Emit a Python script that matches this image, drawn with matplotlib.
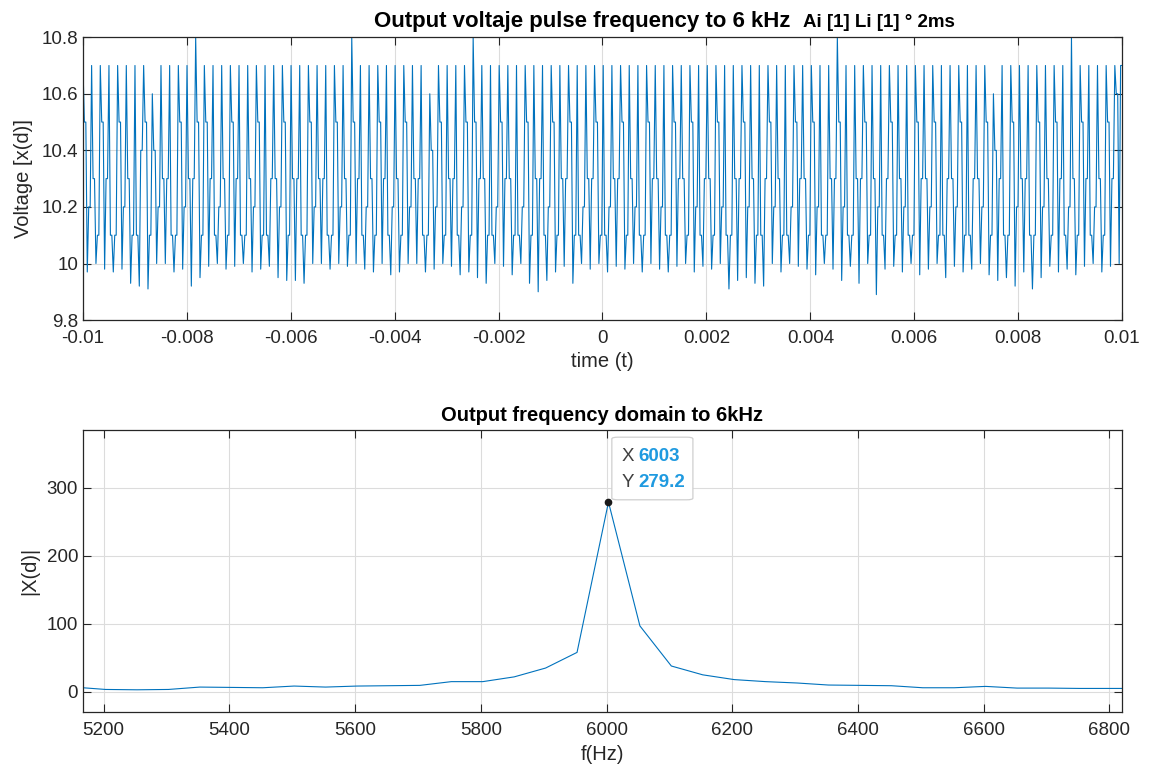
import numpy as np
import matplotlib.pyplot as plt
from matplotlib.patches import FancyBboxPatch

# Time-domain pulse train, one entry per cycle (120 cycles across 20 ms)
peaks = [
    10.7, 10.7, 10.7, 10.7, 10.7, 10.7, 10.7, 10.7, 10.6, 10.7, 10.7, 10.7, 10.7, 10.8, 10.7, 10.7, 10.7, 10.7, 10.7, 10.7,
    10.7, 10.7, 10.7, 10.7, 10.7, 10.7, 10.7, 10.7, 10.7, 10.7, 10.7, 10.8, 10.7, 10.7, 10.7, 10.7, 10.7, 10.7, 10.7, 10.7,
    10.6, 10.7, 10.7, 10.7, 10.7, 10.8, 10.7, 10.7, 10.7, 10.7, 10.7, 10.7, 10.7, 10.7, 10.7, 10.7, 10.7, 10.7, 10.7, 10.7,
    10.7, 10.7, 10.7, 10.7, 10.7, 10.7, 10.7, 10.7, 10.7, 10.7, 10.7, 10.7, 10.7, 10.7, 10.7, 10.7, 10.7, 10.7, 10.7, 10.7,
    10.7, 10.7, 10.7, 10.7, 10.7, 10.7, 10.7, 10.8, 10.7, 10.7, 10.7, 10.7, 10.7, 10.7, 10.7, 10.7, 10.7, 10.7, 10.7, 10.7,
    10.7, 10.7, 10.7, 10.7, 10.7, 10.6, 10.7, 10.7, 10.7, 10.7, 10.7, 10.7, 10.7, 10.7, 10.8, 10.7, 10.7, 10.7, 10.7, 10.7,
]
down_mid = [
    10.5, 10.3, 10.5, 10.1, 10.5, 10.3, 10.1, 10.5, 10.4, 10.3, 10.1, 10.5, 10.3, 10.5, 10.5, 10.1, 10.3, 10.5, 10.1, 10.3,
    10.5, 10.1, 10.3, 10.5, 10.3, 10.1, 10.5, 10.3, 10.1, 10.5, 10.3, 10.5, 10.1, 10.3, 10.5, 10.1, 10.3, 10.5, 10.3, 10.1,
    10.4, 10.5, 10.3, 10.1, 10.5, 10.5, 10.3, 10.1, 10.5, 10.3, 10.1, 10.5, 10.3, 10.1, 10.5, 10.3, 10.5, 10.1, 10.3, 10.5,
    10.1, 10.3, 10.5, 10.3, 10.1, 10.5, 10.3, 10.1, 10.5, 10.3, 10.5, 10.1, 10.3, 10.5, 10.1, 10.3, 10.5, 10.3, 10.1, 10.5,
    10.3, 10.1, 10.5, 10.3, 10.5, 10.1, 10.3, 10.5, 10.1, 10.3, 10.5, 10.3, 10.1, 10.5, 10.3, 10.1, 10.5, 10.3, 10.5, 10.1,
    10.3, 10.5, 10.1, 10.3, 10.5, 10.4, 10.1, 10.5, 10.3, 10.1, 10.5, 10.3, 10.5, 10.1, 10.3, 10.5, 10.1, 10.3, 10.5, 10.6,
]
troughs = [
    9.97, 10.0, 9.98, 9.97, 9.98, 9.93, 9.92, 9.91, 10.0, 10.0, 9.97, 9.98, 9.92, 9.95, 9.99, 10.0, 9.98, 9.99, 10.0, 9.97,
    9.98, 9.99, 9.95, 9.94, 9.94, 9.93, 10.0, 10.0, 9.98, 10.0, 9.99, 10.0, 9.98, 9.97, 10.0, 9.96, 9.97, 10.0, 10.0, 9.97,
    9.98, 10.0, 9.99, 9.96, 9.97, 9.95, 9.93, 10.0, 9.99, 9.96, 10.0, 9.93, 9.90, 9.94, 9.97, 9.99, 9.93, 10.0, 9.98, 10.0,
    9.97, 9.99, 9.98, 10.0, 9.97, 10.0, 9.98, 9.97, 9.99, 10.0, 9.97, 9.99, 9.98, 10.0, 9.91, 9.94, 9.95, 9.93, 9.92, 10.0,
    9.97, 10.0, 9.99, 9.98, 9.96, 10.0, 9.98, 9.94, 9.99, 9.93, 10.0, 9.89, 9.98, 9.99, 9.97, 10.0, 9.96, 9.98, 10.0, 9.95,
    9.99, 9.97, 9.98, 10.0, 9.96, 9.94, 9.95, 9.92, 9.97, 9.91, 9.95, 9.99, 9.97, 9.98, 9.96, 9.99, 10.0, 9.97, 9.99, 10.0,
]
up_mid = [
    10.2, 10.1, 10.3, 10.1, 10.2, 10.1, 10.4, 10.1, 10.2, 10.3, 10.1, 10.2, 10.3, 10.1, 10.3, 10.2, 10.1, 10.3, 10.1, 10.2,
    10.1, 10.3, 10.2, 10.1, 10.3, 10.1, 10.2, 10.3, 10.1, 10.2, 10.1, 10.3, 10.2, 10.1, 10.3, 10.2, 10.1, 10.2, 10.3, 10.1,
    10.2, 10.1, 10.3, 10.2, 10.1, 10.3, 10.1, 10.2, 10.3, 10.1, 10.2, 10.1, 10.3, 10.2, 10.1, 10.3, 10.1, 10.2, 10.3, 10.1,
    10.2, 10.3, 10.1, 10.2, 10.1, 10.3, 10.2, 10.1, 10.3, 10.1, 10.2, 10.3, 10.1, 10.2, 10.1, 10.3, 10.2, 10.1, 10.3, 10.2,
    10.1, 10.2, 10.3, 10.1, 10.2, 10.1, 10.3, 10.2, 10.1, 10.3, 10.1, 10.2, 10.3, 10.1, 10.2, 10.1, 10.3, 10.2, 10.1, 10.3,
    10.2, 10.1, 10.3, 10.2, 10.1, 10.3, 10.1, 10.2, 10.3, 10.1, 10.2, 10.1, 10.3, 10.2, 10.1, 10.3, 10.2, 10.1, 10.3, 10.7,
]

# Spectrum around 6 kHz
freq = [5167, 5203, 5253, 5303, 5353, 5403, 5453, 5503, 5553, 5603, 5653, 5703, 5753, 5803, 5853, 5903, 5953,
        6003, 6053, 6103, 6153, 6203, 6253, 6303, 6353, 6403, 6453, 6503, 6553, 6603, 6653, 6703, 6753, 6803, 6820]
mag = [6, 3.5, 3, 3.5, 7, 6.5, 6, 8.5, 7, 8.5, 9, 9.5, 15, 15, 22, 35, 58,
       279.2, 97, 38, 25, 18, 15, 13, 10, 9.5, 9, 6, 6, 8, 5.5, 5.5, 5, 5, 5]
tip_x, tip_y = 6003, 279.2

# build sample sequence: peak, plateau down, trough, plateau up
volt = []
for p, d, tr, u in zip(peaks, down_mid, troughs, up_mid):
    volt += [p, d, d, tr, u, u]
t = np.linspace(-0.01, 0.01, len(volt))

blue = '#0072BD'
dark = '#262626'
plt.rcParams['font.family'] = 'Liberation Sans'

fig = plt.figure(figsize=(11.52, 7.75), dpi=100)
ax1 = fig.add_axes([0.072, 0.587, 0.902, 0.365])
ax2 = fig.add_axes([0.072, 0.081, 0.902, 0.364])


def matlab_style(ax):
    ax.grid(True, color='#dcdcdc', linewidth=0.8)
    ax.set_axisbelow(True)
    for s in ax.spines.values():
        s.set_color(dark)
        s.set_linewidth(0.9)
    ax.tick_params(direction='in', top=True, right=True, length=6, colors=dark,
                   labelcolor=dark, labelsize=13.5)
    ax.tick_params(axis='x', pad=7)


ax1.plot(t, volt, color=blue, linewidth=0.8)
ax1.set_xlim(-0.01, 0.01)
ax1.set_ylim(9.8, 10.8)
ax1.set_xticks(np.arange(-0.01, 0.0101, 0.002))
ax1.set_xticklabels(['-0.01', '-0.008', '-0.006', '-0.004', '-0.002', '0',
                     '0.002', '0.004', '0.006', '0.008', '0.01'])
ax1.set_yticks([9.8, 10.0, 10.2, 10.4, 10.6, 10.8])
ax1.set_yticklabels(['9.8', '10', '10.2', '10.4', '10.6', '10.8'])
ax1.set_xlabel('time (t)', color=dark, fontsize=14.5, labelpad=4)
ax1.set_ylabel('Voltage [x(d)]', color=dark, fontsize=14.5, labelpad=6)
matlab_style(ax1)
fig.text(0.505, 0.965, 'Output voltaje pulse frequency to 6 kHz', ha='center', va='baseline',
         fontsize=16, fontweight='bold', color='black')
fig.text(0.697, 0.965, 'Ai [1] Li [1] \u00b0 2ms', ha='left', va='baseline',
         fontsize=13.5, fontweight='bold', color='black')

ax2.plot(freq, mag, color=blue, linewidth=0.8)
ax2.plot([tip_x], [tip_y], 'o', color='#1a1a1a', markersize=4.5, zorder=5)
ax2.set_xlim(5167, 6820)
ax2.set_ylim(-30, 385)
ax2.set_xticks([5200, 5400, 5600, 5800, 6000, 6200, 6400, 6600, 6800])
ax2.set_yticks([0, 100, 200, 300])
ax2.set_xlabel('f(Hz)', color=dark, fontsize=14.5, labelpad=4)
ax2.set_ylabel('|X(d)|', color=dark, fontsize=14.5, labelpad=5)
matlab_style(ax2)
fig.text(0.5225, 0.457, 'Output frequency domain to 6kHz', ha='center', va='baseline',
         fontsize=14.5, fontweight='bold', color='black')

# data tip box (axes fraction)
tip_box = FancyBboxPatch((0.511, 0.755), 0.074, 0.218, transform=ax2.transAxes,
                         boxstyle='round,pad=0.002,rounding_size=0.006',
                         fc='white', ec='#cfcfcf', lw=0.9, zorder=6)
ax2.add_patch(tip_box)
ax2.text(0.518, 0.905, 'X', transform=ax2.transAxes, color='#404040', fontsize=13.5,
         va='center', zorder=7)
ax2.text(0.535, 0.905, f'{tip_x}', transform=ax2.transAxes, color='#1f9ae0', fontsize=13.5,
         fontweight='bold', va='center', zorder=7)
ax2.text(0.518, 0.815, 'Y', transform=ax2.transAxes, color='#404040', fontsize=13.5,
         va='center', zorder=7)
ax2.text(0.535, 0.815, f'{tip_y}', transform=ax2.transAxes, color='#1f9ae0', fontsize=13.5,
         fontweight='bold', va='center', zorder=7)

fig.savefig('out.png', dpi=100)
